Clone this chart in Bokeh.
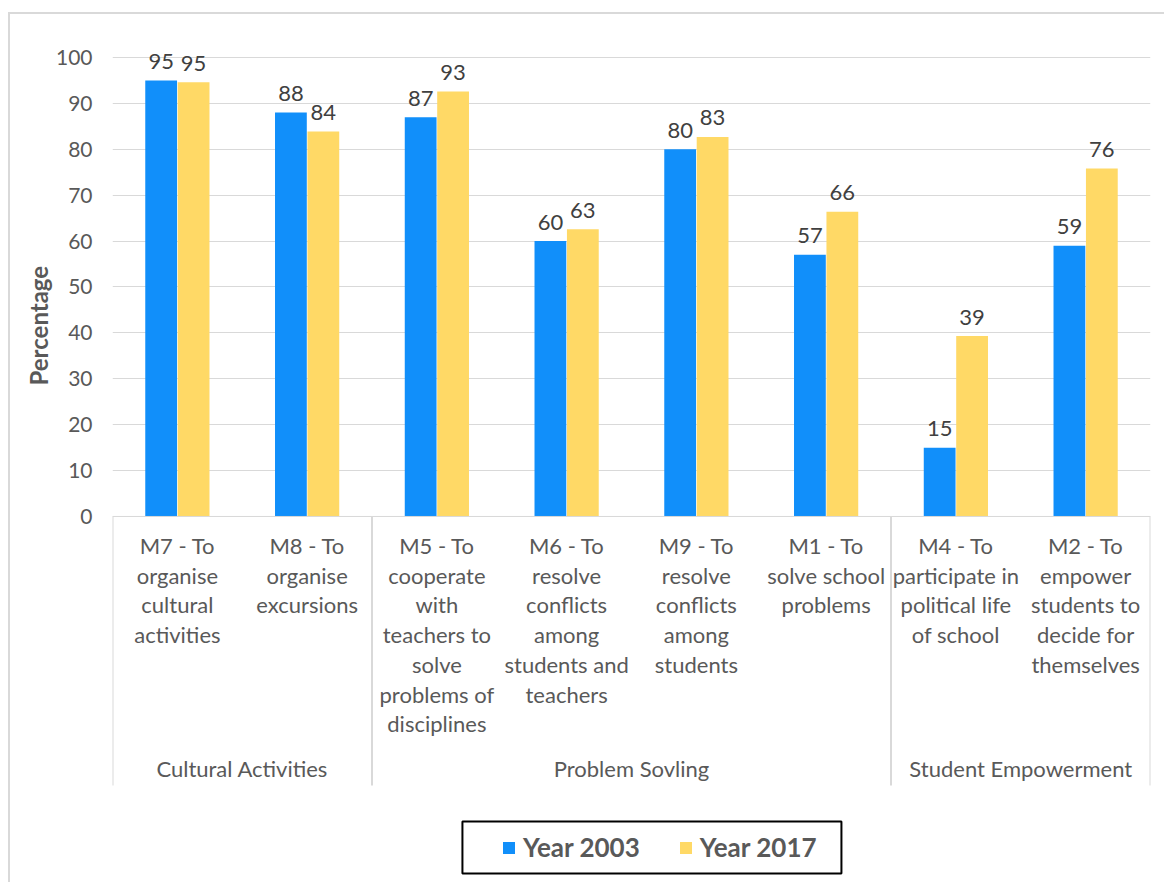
import numpy as np
from bokeh.plotting import figure
from bokeh.models import (ColumnDataSource, Range1d, FixedTicker, Legend, LegendItem,
                          BoxAnnotation, Title)
from bokeh.transform import dodge
from bokeh.core.properties import value
from bokeh.embed import file_html
from bokeh.resources import INLINE

# ---------------- data ----------------
categories = [
    "M7 - To organise cultural activities",
    "M8 - To organise excursions",
    "M5 - To cooperate with teachers to solve problems of disciplines",
    "M6 - To resolve conflicts among students and teachers",
    "M9 - To resolve conflicts among students",
    "M1 - To solve school problems",
    "M4 - To participate in political life of school",
    "M2 - To empower students to decide for themselves",
]
category_labels = [
    "M7 - To\norganise\ncultural\nactivities",
    "M8 - To\norganise\nexcursions",
    "M5 - To\ncooperate\nwith\nteachers to\nsolve\nproblems of\ndisciplines",
    "M6 - To\nresolve\nconflicts\namong\nstudents and\nteachers",
    "M9 - To\nresolve\nconflicts\namong\nstudents",
    "M1 - To\nsolve school\nproblems",
    "M4 - To\nparticipate in\npolitical life\nof school",
    "M2 - To\nempower\nstudents to\ndecide for\nthemselves",
]
groups = ["Cultural Activities", "Problem Sovling", "Student Empowerment"]
group_sizes = [2, 4, 2]
year_2003 = [95, 88, 87, 60, 80, 57, 15, 59]
year_2017 = [94.6, 83.9, 92.6, 62.6, 82.7, 66.4, 39.3, 75.8]
series_names = ["Year 2003", "Year 2017"]
y_ticks = [0, 10, 20, 30, 40, 50, 60, 70, 80, 90, 100]
y_title = "Percentage"

# ---------------- styles ----------------
FONT = "Lato"
BLUE = "#118ffa"
YELLOW = "#ffd966"
TEXT = "#595959"
LINE = "#d9d9d9"

n = len(categories)
xpos = np.arange(n) + 0.5
src = ColumnDataSource(dict(
    x=xpos, cat=category_labels, y03=year_2003, y17=year_2017,
    l03=[f"{v:.0f}" for v in year_2003], l17=[f"{v:.0f}" for v in year_2017],
))

p = figure(width=1156, height=870, x_range=Range1d(0, n), y_range=Range1d(-80.18, 108.06),
           x_axis_location=None, output_backend="svg", toolbar_location=None,
           min_border_left=102, min_border_right=16, min_border_top=6, min_border_bottom=0)
p.styles = {"margin-left": "8px", "margin-top": "12px",
            "border-left": "2px solid #d9d9d9", "border-top": "2px solid #d9d9d9"}
p.outline_line_color = None
p.background_fill_color = "white"
p.border_fill_color = "white"
for g in p.grid:
    if g.dimension == 0:
        g.visible = False

ax = p.yaxis[0]
ax.ticker = FixedTicker(ticks=y_ticks)
ax.axis_line_color = None
ax.major_tick_line_color = None
ax.minor_tick_line_color = None
ax.major_tick_out = 0
ax.major_tick_in = 0
ax.major_label_standoff = 20
ax.major_label_text_font = FONT
ax.major_label_text_font_size = "21px"
ax.major_label_text_color = TEXT
p.ygrid.grid_line_color = LINE
p.ygrid.grid_line_width = 1

p.add_layout(Title(text=y_title, align="left", offset=499, standoff=0,
                   text_font=FONT, text_font_size="24px", text_font_style="bold",
                   text_color=TEXT), "left")

bw = 0.245
r1 = p.vbar(x=dodge("x", -0.125), top="y03", width=bw, bottom=0, source=src,
            fill_color=BLUE, line_color=None)
r2 = p.vbar(x=dodge("x", 0.125), top="y17", width=bw, bottom=0, source=src,
            fill_color=YELLOW, line_color=None)

for col, lab, dx in (("y03", "l03", -0.125), ("y17", "l17", 0.125)):
    p.text(x=dodge("x", dx), y=col, text=lab, source=src, text_align="center",
           text_baseline="middle", y_offset=-19, text_font=value(FONT),
           text_font_size="22px", text_color="#404040")

# category labels
p.text(x="x", y=-3.4, text="cat", source=src, text_align="center", text_baseline="top",
       text_font=value(FONT), text_font_size="22px", text_color=TEXT, text_line_height=1.1)

# group separators and labels
bounds = np.concatenate([[0], np.cumsum(group_sizes)])
p.segment(x0=bounds, y0=0, x1=bounds, y1=-58.6, line_color=LINE, line_width=2)
p.segment(x0=[0], y0=0, x1=[n], y1=0, line_color=LINE, line_width=1)
gcent = (bounds[:-1] + bounds[1:]) / 2
p.text(x=gcent, y=-54.9, text=groups, text_align="center", text_baseline="middle",
       text_font=value(FONT), text_font_size="22px", text_color=TEXT)

# legend
legend = Legend(items=[LegendItem(label=series_names[0], renderers=[r1]),
                       LegendItem(label=series_names[1], renderers=[r2])],
                orientation="horizontal", location=(389, 21), padding=0, margin=0,
                spacing=38, glyph_width=15, glyph_height=15, label_standoff=7,
                label_text_font=FONT, label_text_font_style="bold",
                label_text_font_size="26px", label_text_color=TEXT,
                border_line_color=None, background_fill_alpha=0)
p.add_layout(legend)
p.add_layout(BoxAnnotation(left=2.697, right=5.618, top=-66.45, bottom=-77.78,
                           fill_color=None, fill_alpha=0, line_color="black",
                           line_alpha=1, line_width=2))

open("out.html", "w").write(file_html(p, INLINE))
